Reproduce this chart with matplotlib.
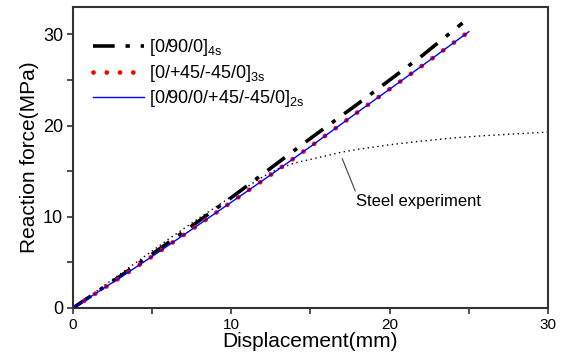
import matplotlib
matplotlib.use("Agg")
import matplotlib.pyplot as plt
import numpy as np

plt.rcParams['font.family'] = ['Liberation Sans', 'DejaVu Sans']
plt.rcParams['mathtext.fontset'] = 'custom'
plt.rcParams['mathtext.rm'] = 'Liberation Sans'

# Data
x_4s = [0, 1, 3, 5, 8, 10, 12, 15, 18, 20, 22, 24.6]
y_4s = [0, 1.15, 3.5, 5.9, 9.6, 12.1, 14.7, 18.6, 22.4, 25.0, 27.6, 31.25]

x_3s = [0, 1, 3, 5, 8, 10, 12, 15, 18, 20, 22, 25]
y_3s = [0, 1.1, 3.35, 5.65, 9.2, 11.6, 14.0, 17.7, 21.5, 24.0, 26.5, 30.3]

x_2s = [0, 1, 3, 5, 8, 10, 12, 15, 18, 20, 22, 25]
y_2s = [0, 1.1, 3.35, 5.65, 9.2, 11.6, 14.0, 17.7, 21.5, 24.0, 26.5, 30.3]

x_steel = [0, 1, 2, 4, 6, 8, 10, 12, 13, 14, 15.5, 17, 18, 20, 22, 24, 26, 28, 30]
y_steel = [0, 1.2, 2.5, 5.0, 7.5, 9.9, 12.2, 14.4, 15.3, 15.9, 16.5, 17.1, 17.4, 17.9, 18.3, 18.65, 18.9, 19.1, 19.3]

labels = [r'[0/90/0]$_{\mathrm{4s}}$', r'[0/+45/-45/0]$_{\mathrm{3s}}$',
          r'[0/90/0/+45/-45/0]$_{\mathrm{2s}}$']

fig = plt.figure(figsize=(5.65, 3.54), dpi=100)
ax = fig.add_axes([0.129, 0.130, 0.841, 0.850])

ax.plot(x_steel, y_steel, color='black', lw=1.0, linestyle=(0, (1, 2.5)), zorder=2)
l1, = ax.plot(x_4s, y_4s, color='black', lw=2.6, linestyle=(0, (6, 3, 1.2, 3)), zorder=3,
              label=labels[0])
l2, = ax.plot(x_3s, y_3s, color='red', lw=3.4, linestyle=(0, (0.01, 2.8)), zorder=3,
              label=labels[1], dash_capstyle='round')
l3, = ax.plot(x_2s, y_2s, color='blue', lw=1.0, zorder=4, label=labels[2])

ax.set_xlim(0, 30)
ax.set_ylim(0, 33)
ax.set_xticks([0, 10, 20, 30])
ax.set_xticks([5, 15, 25], minor=True)
ax.set_yticks([0, 10, 20, 30])
ax.set_yticks([5, 15, 25], minor=True)
ax.tick_params(axis='x', which='both', direction='out', top=False, labelsize=11, pad=3)
ax.tick_params(axis='y', which='both', direction='out', right=False, labelsize=13, pad=3)
ax.tick_params(which='major', length=4, width=1.2, color='#333333')
ax.tick_params(which='minor', length=4, width=1.2, color='#333333')
for s in ax.spines.values():
    s.set_linewidth(1.5)
    s.set_color('#333333')

ax.set_xlabel('Displacement(mm)', fontsize=15, labelpad=0)
ax.set_ylabel('Reaction force(MPa)', fontsize=15, labelpad=3)

leg = ax.legend(handles=[l1, l2, l3], loc='upper left', frameon=False, fontsize=13,
                handlelength=2.8, handletextpad=0.3, labelspacing=0.25,
                borderaxespad=0.2, bbox_to_anchor=(0.02, 0.935))

ax.annotate('Steel experiment', xy=(17.0, 16.4), xytext=(17.9, 11.7),
            fontsize=12, ha='left', va='center',
            arrowprops=dict(arrowstyle='-', color='#444444', lw=0.8,
                            shrinkA=0, shrinkB=0, relpos=(0.0, 1.0)))

fig.savefig('out.png', dpi=100)
